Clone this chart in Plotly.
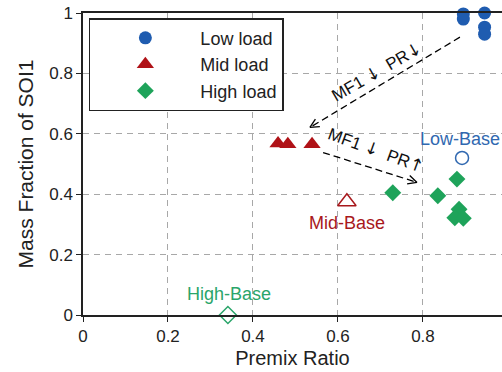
import plotly.graph_objects as go
import math

# ---- data ----
low_x = [0.895, 0.895, 0.945, 0.945, 0.945]
low_y = [0.997, 0.98, 1.0, 0.953, 0.93]
mid_x = [0.459, 0.482, 0.539]
mid_y = [0.568, 0.565, 0.565]
high_x = [0.729, 0.835, 0.88, 0.885, 0.875, 0.895]
high_y = [0.405, 0.395, 0.45, 0.35, 0.322, 0.32]

base_names = ["Low-Base", "Mid-Base", "High-Base"]
base_x = [0.892, 0.621, 0.341]
base_y = [0.52, 0.375, 0.0]

arrow1 = [(0.887, 0.92), (0.534, 0.621)]
arrow2 = [(0.565, 0.538), (0.786, 0.439)]

blue = "#1f5cb0"
red = "#b01217"
green = "#1ea35a"
blue_l = "#3068b0"
red_l = "#a8181c"
green_l = "#2aa56a"

FONT = "Liberation Sans, Arial, sans-serif"

fig = go.Figure()
fig.add_trace(go.Scatter(x=low_x, y=low_y, mode="markers", name="Low load",
                         marker=dict(symbol="circle", size=13, color=blue), cliponaxis=False))
fig.add_trace(go.Scatter(x=mid_x, y=mid_y, mode="markers", name="Mid load",
                         marker=dict(symbol="triangle-up", size=15, color=red), cliponaxis=False))
fig.add_trace(go.Scatter(x=high_x, y=high_y, mode="markers", name="High load",
                         marker=dict(symbol="diamond", size=13, color=green), cliponaxis=False))

syms = ["circle-open", "triangle-up-open", "diamond-open"]
cols = [blue_l, red_l, green_l]
sizes = [13, 16, 13]
for nm, bx, by, s, c, sz in zip(base_names, base_x, base_y, syms, cols, sizes):
    fig.add_trace(go.Scatter(x=[bx], y=[by], mode="markers", showlegend=False,
                             marker=dict(symbol=s, size=sz, color=c, line=dict(width=1.5, color=c)),
                             cliponaxis=False))

# base labels
label_off = [(-0.005, 0.062), (0.0, -0.07), (0.002, 0.07)]
for nm, bx, by, c, (dx, dy) in zip(base_names, base_x, base_y, cols, label_off):
    fig.add_annotation(x=bx + dx, y=by + dy, text=nm, showarrow=False,
                       font=dict(family=FONT, size=18, color=c))

# arrows (dashed line + open V head)
XPX, YPX = 425.0, 302.0
for (x0, y0), (x1, y1) in [arrow1, arrow2]:
    fig.add_trace(go.Scatter(x=[x0, x1], y=[y0, y1], mode="lines", showlegend=False,
                             line=dict(color="black", width=1.3, dash="7px,4px"), hoverinfo="skip"))
    ang = math.atan2((y0 - y1) * YPX, (x0 - x1) * XPX)
    hx, hy = [], []
    for da in (0.45, -0.45):
        hx += [x1 + 10 * math.cos(ang + da) / XPX, x1, None]
        hy += [y1 + 10 * math.sin(ang + da) / YPX, y1, None]
    fig.add_trace(go.Scatter(x=hx, y=hy, mode="lines", showlegend=False,
                             line=dict(color="black", width=1.3), hoverinfo="skip"))

def arr(ch):
    return "<span style='font-family:DejaVu Sans'>" + ch + "</span>"

fig.add_annotation(x=0.689, y=0.806, text="MF1 " + arr("↓") + "  PR" + arr("↓"),
                   showarrow=False, textangle=-30,
                   font=dict(family=FONT, size=17, color="#111"))
fig.add_annotation(x=0.689, y=0.548, text="MF1 " + arr("↓") + "  PR" + arr("↑"),
                   showarrow=False, textangle=20,
                   font=dict(family=FONT, size=17, color="#111"))

grid = dict(showgrid=True, gridcolor="#a8a8a8", griddash="6px,5px", gridwidth=1,
            showline=True, linecolor="#222", linewidth=1.5, ticks="outside", ticklen=5,
            tickcolor="#222", tickfont=dict(family=FONT, size=17, color="#222"),
            zeroline=False, mirror=True, automargin=False)

fig.update_layout(
    width=502, height=372,
    margin=dict(l=83, r=0, t=13, b=57),
    plot_bgcolor="white", paper_bgcolor="white",
    xaxis=dict(range=[0, 0.986], dtick=0.2, tickformat="~g",
               title=dict(text="Premix Ratio", font=dict(family=FONT, size=20, color="#222"), standoff=6),
               **grid),
    yaxis=dict(range=[0, 1], dtick=0.2, tickformat="~g",
               title=dict(text="Mass Fraction of SOI1", font=dict(family=FONT, size=21, color="#222"), standoff=10),
               **grid),
    legend=dict(x=0.014, y=0.983, xanchor="left", yanchor="top",
                bgcolor="white", bordercolor="#222", borderwidth=1.5,
                font=dict(family=FONT, size=18, color="#222"), itemwidth=100,
                tracegroupgap=0),
    showlegend=True,
)
fig.write_html("out.html", config={"displayModeBar": False},
               post_script="document.body.style.margin='0';document.body.style.overflow='hidden';")
